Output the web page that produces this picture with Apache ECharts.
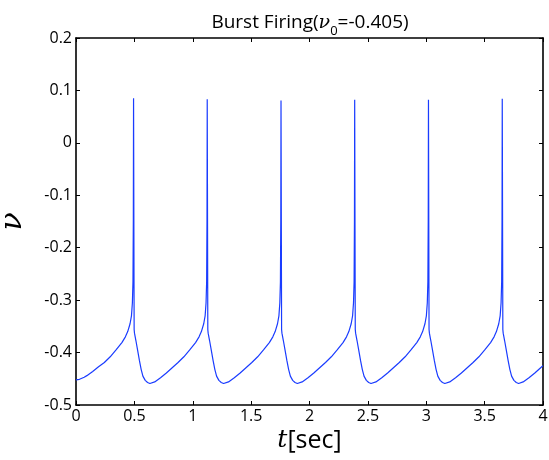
<!DOCTYPE html>
<html>
<head>
<meta charset="utf-8">
<script src="https://cdn.jsdelivr.net/npm/echarts@6/dist/echarts.min.js"></script>
<style>html,body{margin:0;padding:0;background:#fff}#c{width:549px;height:460px}</style>
</head>
<body>
<div id="c"></div>
<script>
// Time (sec) and membrane variable v
var timeSec = [
  0, 0.03, 0.07, 0.093, 0.143, 0.193, 0.243, 0.293, 0.343, 0.393, 0.423, 0.443, 0.463, 0.475, 0.483, 0.488, 0.491, 0.493, 0.496, 0.498, 0.501, 0.513, 0.528, 0.543, 0.558, 0.573, 0.593, 0.613, 0.633,
  0.674, 0.724, 0.774, 0.824, 0.874, 0.924, 0.974, 1.024, 1.054, 1.074, 1.094, 1.106, 1.114, 1.119, 1.122, 1.124, 1.127, 1.129, 1.132, 1.144, 1.159, 1.174, 1.189, 1.204, 1.224, 1.244, 1.264,
  1.306, 1.356, 1.406, 1.456, 1.506, 1.556, 1.606, 1.656, 1.686, 1.706, 1.726, 1.738, 1.746, 1.751, 1.754, 1.756, 1.759, 1.761, 1.764, 1.776, 1.791, 1.806, 1.821, 1.836, 1.856, 1.876, 1.896,
  1.937, 1.987, 2.037, 2.087, 2.137, 2.187, 2.237, 2.287, 2.317, 2.337, 2.357, 2.369, 2.377, 2.382, 2.385, 2.387, 2.390, 2.392, 2.395, 2.407, 2.422, 2.437, 2.452, 2.467, 2.487, 2.507, 2.527,
  2.569, 2.619, 2.669, 2.719, 2.769, 2.819, 2.869, 2.919, 2.949, 2.969, 2.989, 3.001, 3.009, 3.014, 3.017, 3.019, 3.022, 3.024, 3.027, 3.039, 3.054, 3.069, 3.084, 3.099, 3.119, 3.139, 3.159,
  3.201, 3.251, 3.301, 3.351, 3.401, 3.451, 3.501, 3.551, 3.581, 3.601, 3.621, 3.633, 3.641, 3.646, 3.649, 3.651, 3.654, 3.656, 3.659, 3.671, 3.686, 3.701, 3.716, 3.731, 3.751, 3.771, 3.791,
  3.83, 3.88, 3.93, 3.98, 4.0
];
var vValues = [
  -0.452, -0.451, -0.447, -0.444, -0.436, -0.427, -0.419, -0.408, -0.395, -0.381, -0.370, -0.360, -0.345, -0.330, -0.305, -0.265, -0.150, 0.085, 0.083, -0.356, -0.363, -0.377, -0.396, -0.415, -0.432, -0.445, -0.453, -0.457, -0.459,
  -0.456, -0.448, -0.439, -0.429, -0.419, -0.408, -0.395, -0.381, -0.370, -0.360, -0.345, -0.330, -0.305, -0.265, -0.150, 0.083, 0.081, -0.356, -0.363, -0.377, -0.396, -0.415, -0.432, -0.445, -0.453, -0.457, -0.459,
  -0.456, -0.448, -0.439, -0.429, -0.419, -0.408, -0.395, -0.381, -0.370, -0.360, -0.345, -0.330, -0.305, -0.265, -0.150, 0.081, 0.079, -0.356, -0.363, -0.377, -0.396, -0.415, -0.432, -0.445, -0.453, -0.457, -0.459,
  -0.456, -0.448, -0.439, -0.429, -0.419, -0.408, -0.395, -0.381, -0.370, -0.360, -0.345, -0.330, -0.305, -0.265, -0.150, 0.082, 0.080, -0.356, -0.363, -0.377, -0.396, -0.415, -0.432, -0.445, -0.453, -0.457, -0.459,
  -0.456, -0.448, -0.439, -0.429, -0.419, -0.408, -0.395, -0.381, -0.370, -0.360, -0.345, -0.330, -0.305, -0.265, -0.150, 0.082, 0.080, -0.356, -0.363, -0.377, -0.396, -0.415, -0.432, -0.445, -0.453, -0.457, -0.459,
  -0.456, -0.448, -0.439, -0.429, -0.419, -0.408, -0.395, -0.381, -0.370, -0.360, -0.345, -0.330, -0.305, -0.265, -0.150, 0.084, 0.082, -0.356, -0.363, -0.377, -0.396, -0.415, -0.432, -0.445, -0.453, -0.457, -0.459,
  -0.456, -0.448, -0.439, -0.429, -0.425
];
var xTickLabels = ['0', '0.5', '1', '1.5', '2', '2.5', '3', '3.5', '4'];
var yTickLabels = ['-0.5', '-0.4', '-0.3', '-0.2', '-0.1', '0', '0.1', '0.2'];

var seriesData = timeSec.map(function (t, i) { return [t, vValues[i]]; });

var sans = '"Open Sans", "Noto Sans", sans-serif';
var serif = '"DejaVu Serif", "Liberation Serif", serif';

var chart = echarts.init(document.getElementById('c'), null, {renderer: 'canvas'});
var axisLineStyle = {color: '#000', width: 1.6};
var tickInside = {show: true, inside: true, length: 4, lineStyle: {color: '#000', width: 1}};
chart.setOption({
  animation: false,
  backgroundColor: '#fff',
  title: {
    text: '{a|Burst Firing(}{nu|ν}{sub|0}{a|=-0.405)}',
    left: 305, top: 5, textAlign: 'center',
    textStyle: {
      fontWeight: 'normal',
      rich: {
        a: {fontFamily: sans, fontSize: 19, fontWeight: 'normal', color: '#000', lineHeight: 26, verticalAlign: 'middle'},
        nu: {fontFamily: serif, fontStyle: 'italic', fontWeight: 'normal', fontSize: 19, color: '#000', lineHeight: 26, verticalAlign: 'middle'},
        sub: {fontFamily: sans, fontSize: 13, fontWeight: 'normal', color: '#000', lineHeight: 26, verticalAlign: 'bottom', padding: [0, 0, -2, 0]}
      }
    }
  },
  grid: {left: 76, right: 6, top: 38, bottom: 55, containLabel: false, outerBoundsMode: 'none'},
  xAxis: [{
    type: 'value', min: 0, max: 4, interval: 0.5, position: 'bottom',
    axisLine: {show: true, onZero: false, lineStyle: axisLineStyle},
    axisTick: tickInside,
    splitLine: {show: false},
    axisLabel: {
      margin: 3, color: '#000', fontFamily: sans, fontSize: 16,
      formatter: function (v) { return xTickLabels[Math.round(v / 0.5)]; }
    },
    name: '{t|t}{s|[sec]}', nameLocation: 'middle', nameGap: 23, nameMoveOverlap: false,
    nameTextStyle: {
      rich: {
        t: {fontFamily: serif, fontStyle: 'italic', fontSize: 25, color: '#000'},
        s: {fontFamily: sans, fontSize: 25, color: '#000'}
      }
    }
  }, {
    type: 'value', min: 0, max: 4, interval: 0.5, position: 'top',
    axisLine: {show: true, onZero: false, lineStyle: axisLineStyle},
    axisTick: tickInside, axisLabel: {show: false}, splitLine: {show: false}
  }],
  yAxis: [{
    type: 'value', min: -0.5, max: 0.2, interval: 0.1, position: 'left',
    axisLine: {show: true, onZero: false, lineStyle: axisLineStyle},
    axisTick: tickInside,
    splitLine: {show: false},
    axisLabel: {
      margin: 4, color: '#000', fontFamily: sans, fontSize: 16,
      formatter: function (v) { return yTickLabels[Math.round((v + 0.5) / 0.1)]; }
    },
    name: 'ν', nameLocation: 'middle', nameGap: 48, nameRotate: 90, nameMoveOverlap: false,
    nameTextStyle: {fontFamily: serif, fontStyle: 'italic', fontSize: 30, color: '#000'}
  }, {
    type: 'value', min: -0.5, max: 0.2, interval: 0.1, position: 'right',
    axisLine: {show: true, onZero: false, lineStyle: axisLineStyle},
    axisTick: tickInside, axisLabel: {show: false}, splitLine: {show: false}
  }],
  series: [{
    type: 'line', xAxisIndex: 0, yAxisIndex: 0,
    data: seriesData, showSymbol: false, symbol: 'none',
    lineStyle: {color: '#1a3cff', width: 1.2},
    clip: true
  }]
});
</script>
</body>
</html>
